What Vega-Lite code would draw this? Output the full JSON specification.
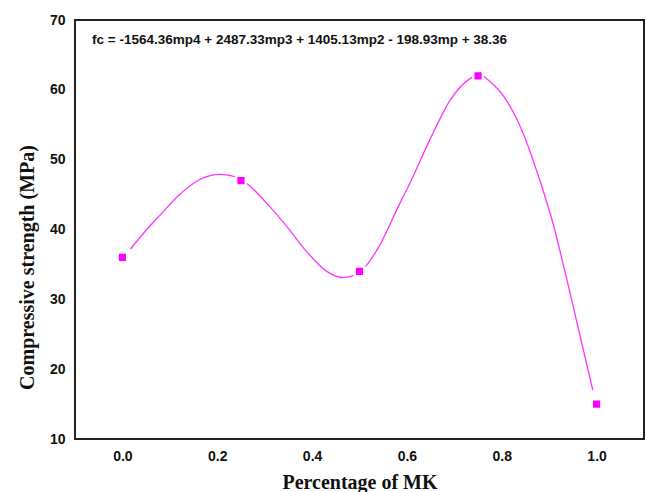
{
  "$schema": "https://vega.github.io/schema/vega-lite/v6.json",
  "width": 569,
  "height": 419,
  "autosize": {"type": "none"},
  "padding": {"left": 75, "top": 20, "right": 2, "bottom": 53},
  "background": "white",
  "config": {
    "view": {"stroke": "#222222", "strokeWidth": 2},
    "axis": {
      "grid": false,
      "domain": false,
      "labelFont": "Liberation Sans",
      "labelFontWeight": "bold",
      "labelFontSize": 14,
      "labelColor": "#111111",
      "titleFont": "Liberation Serif",
      "titleFontWeight": "bold",
      "titleFontSize": 20,
      "titleColor": "#111111"
    }
  },
  "datasets": {
    "fit": [
      {"mp": 0.017, "fc": 37.2},
      {"mp": 0.045, "fc": 39.5},
      {"mp": 0.08, "fc": 42.1},
      {"mp": 0.119, "fc": 44.9},
      {"mp": 0.164, "fc": 47.2},
      {"mp": 0.206, "fc": 47.9},
      {"mp": 0.241, "fc": 47.5},
      {"mp": 0.266, "fc": 46.4},
      {"mp": 0.305, "fc": 43.7},
      {"mp": 0.347, "fc": 40.4},
      {"mp": 0.389, "fc": 36.8},
      {"mp": 0.431, "fc": 34.0},
      {"mp": 0.466, "fc": 33.1},
      {"mp": 0.494, "fc": 33.6},
      {"mp": 0.515, "fc": 34.9},
      {"mp": 0.543, "fc": 37.8},
      {"mp": 0.584, "fc": 43.6},
      {"mp": 0.606, "fc": 46.6},
      {"mp": 0.648, "fc": 52.8},
      {"mp": 0.691, "fc": 58.5},
      {"mp": 0.733, "fc": 61.6},
      {"mp": 0.752, "fc": 62.2},
      {"mp": 0.775, "fc": 61.2},
      {"mp": 0.81, "fc": 58.5},
      {"mp": 0.845, "fc": 53.8},
      {"mp": 0.88, "fc": 47.1},
      {"mp": 0.908, "fc": 40.9},
      {"mp": 0.936, "fc": 33.2},
      {"mp": 0.964, "fc": 25.1},
      {"mp": 0.992, "fc": 17.0}
    ],
    "measured": [
      {"mp": 0.0, "fc": 36},
      {"mp": 0.25, "fc": 47},
      {"mp": 0.5, "fc": 34},
      {"mp": 0.75, "fc": 62},
      {"mp": 1.0, "fc": 15}
    ],
    "ticks": [
      {"mp": 0.0}, {"mp": 0.2}, {"mp": 0.4}, {"mp": 0.6}, {"mp": 0.8}, {"mp": 1.0}
    ],
    "note": [
      {"mp": -0.064, "fc": 67.1, "label": "fc = -1564.36mp4 + 2487.33mp3 + 1405.13mp2 - 198.93mp + 38.36"}
    ]
  },
  "encoding": {
    "x": {
      "field": "mp",
      "type": "quantitative",
      "scale": {"domain": [-0.1, 1.1], "nice": false, "zero": false},
      "axis": {
        "values": [0, 0.2, 0.4, 0.6, 0.8, 1.0],
        "format": ".1f",
        "ticks": false,
        "labelPadding": 10,
        "labelBaseline": "top",
        "title": "Percentage of MK",
        "titleBaseline": "alphabetic",
        "titleY": 49
      }
    },
    "y": {
      "field": "fc",
      "type": "quantitative",
      "scale": {"domain": [10, 70], "nice": false, "zero": false},
      "axis": {
        "values": [10, 20, 30, 40, 50, 60, 70],
        "ticks": false,
        "labelPadding": 10,
        "title": "Compressive strength (MPa)",
        "titleAngle": 270,
        "titleAlign": "center",
        "titleBaseline": "alphabetic",
        "titleX": -42,
        "titleY": 247
      }
    }
  },
  "layer": [
    {
      "data": {"name": "ticks"},
      "mark": {"type": "rule", "color": "#222222", "strokeWidth": 1.5},
      "encoding": {
        "y": {"datum": 10},
        "y2": {"datum": 11.15}
      }
    },
    {
      "data": {"name": "fit"},
      "mark": {"type": "line", "interpolate": "monotone", "color": "#ff33ff", "strokeWidth": 1.3}
    },
    {
      "data": {"name": "measured"},
      "mark": {"type": "point", "shape": "square", "filled": true, "color": "#ff00ff", "size": 92, "stroke": "white", "strokeWidth": 2.4, "opacity": 1}
    },
    {
      "data": {"name": "note"},
      "mark": {"type": "text", "align": "left", "baseline": "middle", "font": "Liberation Sans", "fontWeight": "bold", "fontSize": 13.5, "color": "#111111"},
      "encoding": {"text": {"field": "label"}}
    }
  ]
}
